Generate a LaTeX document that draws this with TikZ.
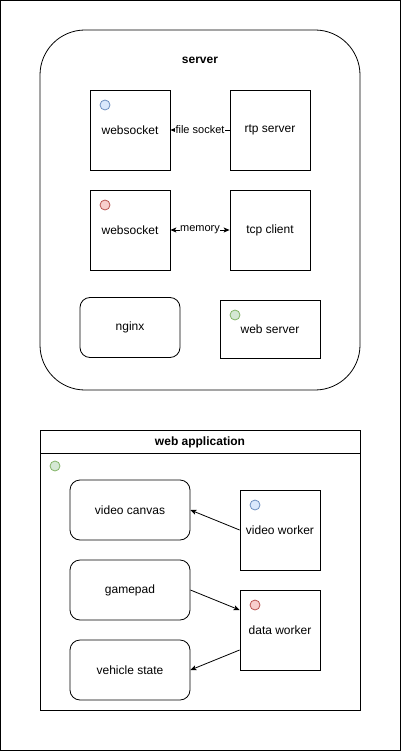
\documentclass[tikz,border=0pt]{standalone}
\usepackage{fontspec}
\setmainfont{Liberation Sans}
\usetikzlibrary{arrows.meta}
\definecolor{bluefill}{HTML}{DAE8FC}\definecolor{bluedraw}{HTML}{6C8EBF}
\definecolor{redfill}{HTML}{F8CECC}\definecolor{reddraw}{HTML}{B85450}
\definecolor{greenfill}{HTML}{D5E8D4}\definecolor{greendraw}{HTML}{82B366}
\tikzset{
  sq/.style={draw, line width=0.8pt, minimum width=80pt, minimum height=80pt, inner sep=0pt, font=\fontsize{12}{14}\selectfont},
  rbox/.style={draw, line width=0.8pt, rounded corners=10pt, minimum width=120pt, minimum height=60pt, inner sep=0pt, font=\fontsize{12}{14}\selectfont},
  dot/.style={circle, draw=#1draw, fill=#1fill, minimum size=10pt, inner sep=0pt, line width=0.8pt},
  edge/.style={line width=0.8pt, -{Stealth[length=6pt,width=5pt,inset=1.5pt]}},
  elabel/.style={fill=white, inner sep=0.5pt, font=\fontsize{11}{13}\selectfont},
}
\begin{document}
\begin{tikzpicture}[x=1pt,y=-1pt]
\useasboundingbox (0,0) rectangle (401,751);
\draw[line width=0.8pt] (0.5,0.5) rectangle (400.5,750.5);
% server container
\draw[line width=0.8pt, rounded corners=45pt] (40,30) rectangle (360,390);
\node[font=\bfseries\fontsize{12}{14}\selectfont] (servertitle) at (200,60) {server};
\node[sq] (ws1) at (130,130) {websocket};
\node[sq] (rtp) at (270,130) {rtp server};
\node[dot=blue] (d1) at (105,105) {};
\node[sq] (ws2) at (130,230) {websocket};
\node[sq] (tcp) at (270,230) {tcp client};
\node[dot=red] (d2) at (105,205) {};
\node[rbox, minimum width=100pt] (nginx) at (130,327.5) {nginx};
\node[sq, minimum width=100pt, minimum height=58pt] (websrv) at (270,329) {\raisebox{-5pt}{web server}};
\node[dot=green] (d3) at (235,315) {};
\draw[edge] (rtp.west) -- node[elabel]{file socket} (ws1.east);
\draw[edge, {Stealth[length=6pt,width=5pt,inset=1.5pt]}-{Stealth[length=6pt,width=5pt,inset=1.5pt]}] (ws2.east) -- node[elabel]{memory} (tcp.west);
% web application container
\draw[line width=0.8pt] (40,430) rectangle (360,710);
\coordinate (hl) at (40,453);
\coordinate (hr) at (360,453);
\draw[line width=0.8pt] (hl) -- (hr);
\node[font=\bfseries\fontsize{12}{14}\selectfont] (apptitle) at (200,442) {web application};
\node[dot=green] (d4) at (55,466) {};
\node[rbox] (canvas) at (130,510) {video canvas};
\node[rbox] (gamepad) at (130,590) {gamepad};
\node[rbox] (vstate) at (130,670) {vehicle state};
\node[sq] (vw) at (280,530) {video worker};
\node[dot=blue] (d5) at (255,505) {};
\node[sq] (dw) at (280,630) {data worker};
\node[dot=red] (d6) at (255,605) {};
\draw[edge] (vw.west) -- (canvas.east);
\draw[edge] (gamepad.east) -- (dw.west |- 0,610);
\draw[edge] (dw.west |- 0,650) -- (vstate.east);
\end{tikzpicture}
\end{document}
